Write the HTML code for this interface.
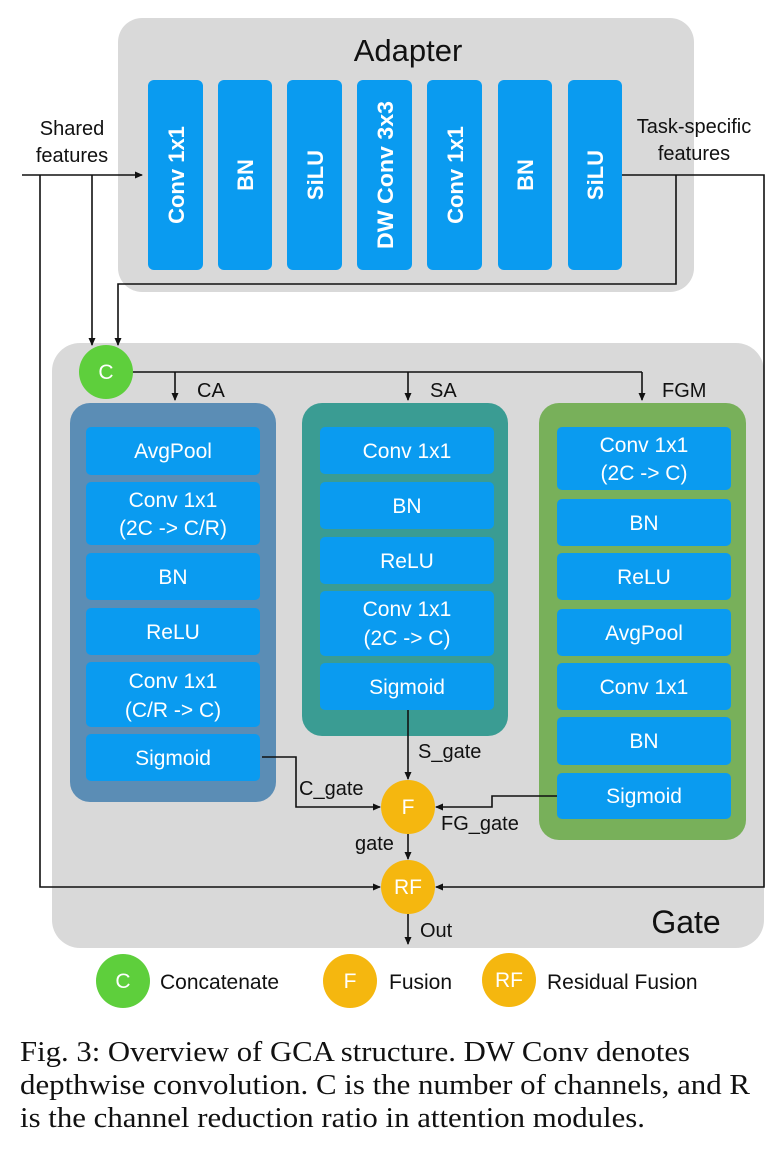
<!DOCTYPE html>
<html><head><meta charset="utf-8"><style>
html,body{margin:0;padding:0;background:#fff;}
svg{display:block;}
text{font-family:"Liberation Sans",sans-serif;}
.w{fill:#fff;font-size:21px;text-anchor:middle;}
.wb{fill:#fff;font-size:22px;font-weight:bold;text-anchor:middle;}
.k{fill:#111;font-size:20px;}
.b{fill:#0a9bf0;}
.ln{stroke:#111;stroke-width:1.6;fill:none;}
.cap{font-family:"Liberation Serif",serif;font-size:28px;fill:#111;}
</style></head><body>
<svg width="774" height="1156" viewBox="0 0 774 1156" xmlns="http://www.w3.org/2000/svg">
<defs><marker id="a" markerWidth="8" markerHeight="8" refX="7" refY="4" orient="auto" markerUnits="userSpaceOnUse"><path d="M0,0.5 L8,4 L0,7.5z" fill="#111"/></marker></defs>
<rect x="118" y="18" width="576" height="274" rx="24" fill="#d9d9d9"/>
<text x="408" y="61" text-anchor="middle" style="font-size:31px;fill:#111">Adapter</text>
<g>
<rect class="b" x="148" y="80" width="55" height="190" rx="6"/>
<rect class="b" x="218" y="80" width="54" height="190" rx="6"/>
<rect class="b" x="287" y="80" width="55" height="190" rx="6"/>
<rect class="b" x="357" y="80" width="55" height="190" rx="6"/>
<rect class="b" x="427" y="80" width="55" height="190" rx="6"/>
<rect class="b" x="498" y="80" width="54" height="190" rx="6"/>
<rect class="b" x="568" y="80" width="54" height="190" rx="6"/>
<text class="wb" transform="translate(184,175) rotate(-90)">Conv 1x1</text>
<text class="wb" transform="translate(253,175) rotate(-90)">BN</text>
<text class="wb" transform="translate(323,175) rotate(-90)">SiLU</text>
<text class="wb" transform="translate(393,175) rotate(-90)" textLength="148" lengthAdjust="spacingAndGlyphs">DW Conv 3x3</text>
<text class="wb" transform="translate(463,175) rotate(-90)">Conv 1x1</text>
<text class="wb" transform="translate(533,175) rotate(-90)">BN</text>
<text class="wb" transform="translate(603,175) rotate(-90)">SiLU</text>
</g>
<text class="k" x="72" y="135" text-anchor="middle">Shared</text>
<text class="k" x="72" y="162" text-anchor="middle">features</text>
<text class="k" x="694" y="133" text-anchor="middle">Task-specific</text>
<text class="k" x="694" y="160" text-anchor="middle">features</text>
<rect x="52" y="343" width="712" height="605" rx="28" fill="#d9d9d9"/>
<path class="ln" d="M22,175 H142" marker-end="url(#a)"/>
<path class="ln" d="M40,175 V887 H380" marker-end="url(#a)"/>
<path class="ln" d="M92,175 V345" marker-end="url(#a)"/>
<path class="ln" d="M622,175 H764 V887 H436" marker-end="url(#a)"/>
<path class="ln" d="M676,175 V284 H118 V345" marker-end="url(#a)"/>
<path class="ln" d="M132,372 H642"/>
<path class="ln" d="M175,372 V400" marker-end="url(#a)"/>
<path class="ln" d="M408,372 V400" marker-end="url(#a)"/>
<path class="ln" d="M642,372 V400" marker-end="url(#a)"/>
<text class="k" x="197" y="397">CA</text>
<text class="k" x="430" y="397">SA</text>
<text class="k" x="662" y="397">FGM</text>
<circle cx="106" cy="372" r="27" fill="#5ecf3c"/>
<text class="w" x="106" y="379">C</text>
<rect x="70" y="403" width="206" height="399" rx="20" fill="#5b8db5"/>
<rect class="b" x="86" y="427" width="174" height="48" rx="5"/>
<rect class="b" x="86" y="482" width="174" height="63" rx="5"/>
<rect class="b" x="86" y="553" width="174" height="47" rx="5"/>
<rect class="b" x="86" y="608" width="174" height="47" rx="5"/>
<rect class="b" x="86" y="662" width="174" height="65" rx="5"/>
<rect class="b" x="86" y="734" width="174" height="47" rx="5"/>
<text class="w" x="173" y="458">AvgPool</text>
<text class="w" x="173" y="507">Conv 1x1</text>
<text class="w" x="173" y="535">(2C -&gt; C/R)</text>
<text class="w" x="173" y="584">BN</text>
<text class="w" x="173" y="639">ReLU</text>
<text class="w" x="173" y="688">Conv 1x1</text>
<text class="w" x="173" y="717">(C/R -&gt; C)</text>
<text class="w" x="173" y="765">Sigmoid</text>
<rect x="302" y="403" width="206" height="333" rx="20" fill="#3a9c93"/>
<rect class="b" x="320" y="427" width="174" height="47" rx="5"/>
<rect class="b" x="320" y="482" width="174" height="47" rx="5"/>
<rect class="b" x="320" y="537" width="174" height="47" rx="5"/>
<rect class="b" x="320" y="591" width="174" height="65" rx="5"/>
<rect class="b" x="320" y="663" width="174" height="47" rx="5"/>
<text class="w" x="407" y="458">Conv 1x1</text>
<text class="w" x="407" y="513">BN</text>
<text class="w" x="407" y="568">ReLU</text>
<text class="w" x="407" y="616">Conv 1x1</text>
<text class="w" x="407" y="645">(2C -&gt; C)</text>
<text class="w" x="407" y="694">Sigmoid</text>
<rect x="539" y="403" width="207" height="437" rx="20" fill="#78b05a"/>
<rect class="b" x="557" y="427" width="174" height="63" rx="5"/>
<rect class="b" x="557" y="499" width="174" height="47" rx="5"/>
<rect class="b" x="557" y="553" width="174" height="47" rx="5"/>
<rect class="b" x="557" y="609" width="174" height="47" rx="5"/>
<rect class="b" x="557" y="663" width="174" height="47" rx="5"/>
<rect class="b" x="557" y="717" width="174" height="48" rx="5"/>
<rect class="b" x="557" y="773" width="174" height="46" rx="5"/>
<text class="w" x="644" y="452">Conv 1x1</text>
<text class="w" x="644" y="480">(2C -&gt; C)</text>
<text class="w" x="644" y="530">BN</text>
<text class="w" x="644" y="584">ReLU</text>
<text class="w" x="644" y="640">AvgPool</text>
<text class="w" x="644" y="694">Conv 1x1</text>
<text class="w" x="644" y="748">BN</text>
<text class="w" x="644" y="803">Sigmoid</text>
<path class="ln" d="M408,710 V779" marker-end="url(#a)"/>
<path class="ln" d="M262,757 H296 V807 H380" marker-end="url(#a)"/>
<path class="ln" d="M557,796 H492 V807 H436" marker-end="url(#a)"/>
<path class="ln" d="M408,834 V859" marker-end="url(#a)"/>
<path class="ln" d="M408,914 V944" marker-end="url(#a)"/>
<text class="k" x="418" y="758">S_gate</text>
<text class="k" x="299" y="795">C_gate</text>
<text class="k" x="441" y="830">FG_gate</text>
<text class="k" x="355" y="850">gate</text>
<text class="k" x="420" y="937">Out</text>
<circle cx="408" cy="807" r="27" fill="#f5b70f"/>
<text class="w" x="408" y="814">F</text>
<circle cx="408" cy="887" r="27" fill="#f5b70f"/>
<text class="w" x="408" y="894">RF</text>
<text x="686" y="933" text-anchor="middle" style="font-size:32px;fill:#111">Gate</text>
<circle cx="123" cy="981" r="27" fill="#5ecf3c"/>
<text class="w" x="123" y="988">C</text>
<text class="k" x="160" y="989" style="font-size:21px">Concatenate</text>
<circle cx="350" cy="981" r="27" fill="#f5b70f"/>
<text class="w" x="350" y="988">F</text>
<text class="k" x="389" y="989" style="font-size:21px">Fusion</text>
<circle cx="509" cy="980" r="27" fill="#f5b70f"/>
<text class="w" x="509" y="987">RF</text>
<text class="k" x="547" y="989" style="font-size:21px">Residual Fusion</text>
<text class="cap" x="20" y="1061" textLength="670" lengthAdjust="spacingAndGlyphs">Fig. 3: Overview of GCA structure. DW Conv denotes</text>
<text class="cap" x="20" y="1094" textLength="730" lengthAdjust="spacingAndGlyphs">depthwise convolution. C is the number of channels, and R</text>
<text class="cap" x="20" y="1127" textLength="625" lengthAdjust="spacingAndGlyphs">is the channel reduction ratio in attention modules.</text>
</svg>
</body></html>
